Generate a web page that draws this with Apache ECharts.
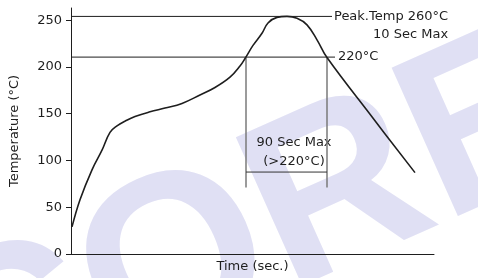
<!DOCTYPE html>
<html>
<head>
<meta charset="utf-8">
<script src="https://cdn.jsdelivr.net/npm/echarts@6/dist/echarts.min.js"></script>
<style>
  html, body { margin: 0; padding: 0; background: #fff; }
  #chart { width: 478px; height: 278px; }
</style>
</head>
<body>
<div id="chart"></div>
<script>
// reflow profile (x in sec, y in axis units)
const timeSec = [1, 9, 21, 31, 39, 46, 54, 64, 79, 94, 111, 129, 144, 159, 169, 174, 182, 191, 197, 206, 216, 226, 236, 246, 256, 300, 344];
const tempC = [29, 58, 90, 111, 130, 137, 142, 147, 152, 156, 161, 170, 178, 189, 201, 209, 223, 236, 247, 253, 254, 252, 245, 229, 210, 148, 87];
const yTicks = [0, 50, 100, 150, 200, 250];

const peakLevel = 254;
const peakLineEnd = 261;
const limitLevel = 210.5;
const limitLineEnd = 264;
const windowStart = 175;
const windowEnd = 256;
const windowBottom = 71;
const spanLevel = 87.6;
const windowLabelAt = [223, 109];

const font = '"DejaVu Sans", "Liberation Sans", sans-serif';
const ink = '#1e1e1e';

const chart = echarts.init(document.getElementById('chart'));

const option = {
  animation: false,
  backgroundColor: '#fff',
  textStyle: { fontFamily: font },
  graphic: [
    {
      // faint watermark behind the plot
      type: 'text',
      x: -62,
      y: 377,
      rotation: 0.42,
      z: -10,
      silent: true,
      style: {
        text: 'CORE',
        font: 'bold 236px "Liberation Sans", Arial, sans-serif',
        fill: '#e0e0f4',
        align: 'left',
        verticalAlign: 'middle'
      }
    }
  ],
  grid: { left: 71, right: 44, top: 8, bottom: 24, outerBoundsMode: 'none' },
  xAxis: {
    type: 'value',
    min: 0,
    max: 363,
    name: 'Time (sec.)',
    nameLocation: 'middle',
    nameGap: 6,
    nameTextStyle: { color: ink, fontSize: 13, fontFamily: font, verticalAlign: 'top' },
    axisLine: { lineStyle: { color: ink, width: 1 } },
    axisTick: { show: false },
    axisLabel: { show: false },
    splitLine: { show: false }
  },
  yAxis: {
    type: 'value',
    min: 0,
    max: 263,
    name: 'Temperature (°C)',
    nameLocation: 'middle',
    nameGap: 50,
    nameTextStyle: { color: ink, fontSize: 13, fontFamily: font },
    axisLine: { show: true, lineStyle: { color: ink, width: 1 } },
    axisTick: { show: true, length: 5, customValues: yTicks, lineStyle: { color: ink } },
    axisLabel: { color: ink, fontSize: 13, margin: 9, fontFamily: font, customValues: yTicks },
    splitLine: { show: false }
  },
  series: [
    {
      name: 'profile',
      type: 'line',
      data: timeSec.map((t, i) => [t, tempC[i]]),
      smooth: 0.4,
      showSymbol: false,
      lineStyle: { color: ink, width: 1.6 },
      z: 5
    },
    {
      name: 'peak',
      type: 'line',
      data: [[0, peakLevel], [peakLineEnd, peakLevel]],
      showSymbol: false,
      lineStyle: { color: ink, width: 1 },
      endLabel: {
        show: true,
        distance: 2,
        offset: [0, 9],
        formatter: '{a|Peak.Temp 260°C}\n{b|10 Sec Max}',
        rich: {
          a: { fontSize: 13, color: ink, fontFamily: font, lineHeight: 18 },
          b: { fontSize: 13, color: ink, fontFamily: font, lineHeight: 18, align: 'right' }
        }
      }
    },
    {
      name: 'limit',
      type: 'line',
      data: [[0, limitLevel], [limitLineEnd, limitLevel]],
      showSymbol: false,
      lineStyle: { color: ink, width: 1 },
      endLabel: {
        show: true,
        distance: 3,
        formatter: '220°C',
        color: ink,
        fontSize: 13,
        fontFamily: font
      }
    },
    {
      name: 'windowStart',
      type: 'line',
      data: [[windowStart, limitLevel], [windowStart, windowBottom]],
      showSymbol: false,
      lineStyle: { color: '#7a7a7a', width: 1.5 }
    },
    {
      name: 'windowEnd',
      type: 'line',
      data: [[windowEnd, limitLevel], [windowEnd, windowBottom]],
      showSymbol: false,
      lineStyle: { color: '#7a7a7a', width: 1.5 }
    },
    {
      name: 'span',
      type: 'line',
      data: [[windowStart, spanLevel], [windowEnd, spanLevel]],
      showSymbol: false,
      lineStyle: { color: '#333', width: 1 }
    },
    {
      name: 'windowLabel',
      type: 'scatter',
      data: [windowLabelAt],
      symbolSize: 0,
      silent: true,
      itemStyle: { opacity: 1 },
      label: {
        show: true,
        position: 'inside',
        formatter: '90 Sec Max\n(>220°C)',
        color: ink,
        fontSize: 13,
        fontFamily: font,
        lineHeight: 19,
        align: 'center'
      }
    }
  ]
};

chart.setOption(option);
</script>
</body>
</html>
